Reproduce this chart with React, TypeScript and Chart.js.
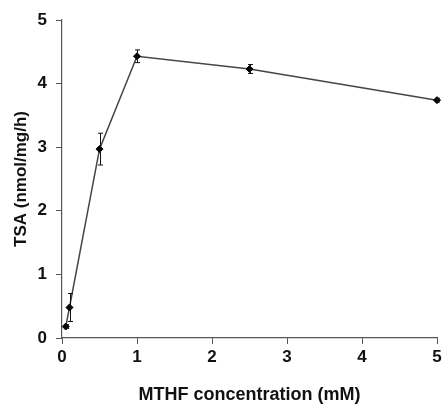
import React, { useEffect, useRef } from "react";
import { Chart, registerables } from "chart.js";

Chart.register(...registerables);

const concentrations = [0.05, 0.1, 0.5, 1, 2.5, 5];
const tsaValues = [0.18, 0.48, 2.97, 4.43, 4.23, 3.74];
const tsaErrors = [0.03, 0.22, 0.25, 0.1, 0.07, 0.03];
const xTicks = [0, 1, 2, 3, 4, 5];
const yTicks = [0, 1, 2, 3, 4, 5];

const FONT = "'Liberation Sans', Arial, sans-serif";

const errorBarPlugin = {
  id: "errorBars",
  afterDatasetsDraw(chart: any) {
    const { ctx, scales } = chart;
    const xs = scales.x;
    const ys = scales.y;
    ctx.save();
    ctx.strokeStyle = "#111";
    ctx.lineWidth = 1;
    concentrations.forEach((c, i) => {
      const px = Math.round(xs.getPixelForValue(c)) + 0.5;
      const top = ys.getPixelForValue(tsaValues[i] + tsaErrors[i]);
      const bot = ys.getPixelForValue(tsaValues[i] - tsaErrors[i]);
      ctx.beginPath();
      ctx.moveTo(px, top);
      ctx.lineTo(px, bot);
      ctx.moveTo(px - 2.5, top);
      ctx.lineTo(px + 2.5, top);
      ctx.moveTo(px - 2.5, bot);
      ctx.lineTo(px + 2.5, bot);
      ctx.stroke();
    });
    ctx.restore();
  },
};

export default function App() {
  const ref = useRef<HTMLCanvasElement>(null);
  useEffect(() => {
    if (!ref.current) return;
    const chart = new Chart(ref.current, {
      type: "line",
      data: {
        datasets: [
          {
            data: concentrations.map((c, i) => ({ x: c, y: tsaValues[i] })),
            borderColor: "#444",
            borderWidth: 1.5,
            pointStyle: "rectRot",
            pointRadius: 3.5,
            pointBackgroundColor: "#000",
            pointBorderColor: "#000",
            pointBorderWidth: 1,
            tension: 0,
            clip: false,
          } as any,
        ],
      },
      options: {
        responsive: false,
        animation: false,
        devicePixelRatio: 1,
        layout: { padding: { top: 20, right: 3, left: 0, bottom: 0 } },
        plugins: { legend: { display: false }, tooltip: { enabled: false } },
        scales: {
          x: {
            type: "linear",
            min: 0,
            max: 5,
            afterBuildTicks: (s: any) => {
              s.ticks = xTicks.map((v) => ({ value: v }));
            },
            afterFit: (s: any) => {
              s.height = 66;
              s.paddingRight = 0;
              s.paddingLeft = 0;
            },
            grid: {
              drawOnChartArea: false,
              drawTicks: true,
              tickLength: 6,
              color: "#555",
            },
            border: { color: "#555", width: 1.2 },
            ticks: {
              color: "#111",
              padding: 3,
              maxRotation: 0,
              font: { family: FONT, size: 17, weight: "bold" },
            },
            title: {
              display: true,
              text: "MTHF concentration (mM)",
              color: "#111",
              padding: { top: 0, bottom: 0 },
              font: { family: FONT, size: 18, weight: "bold", lineHeight: 1 },
            },
          },
          y: {
            type: "linear",
            min: 0,
            max: 5,
            afterBuildTicks: (s: any) => {
              s.ticks = yTicks.map((v) => ({ value: v }));
            },
            afterFit: (s: any) => {
              s.width = 62;
              s.paddingTop = 0;
              s.paddingBottom = 0;
            },
            grid: {
              drawOnChartArea: false,
              drawTicks: true,
              tickLength: 6,
              color: "#555",
            },
            border: { color: "#555", width: 1.2 },
            ticks: {
              color: "#111",
              padding: 9,
              font: { family: FONT, size: 17, weight: "bold" },
            },
            title: {
              display: true,
              text: "TSA (nmol/mg/h)",
              color: "#111",
              padding: { top: 11, bottom: 0 },
              font: { family: FONT, size: 17, weight: "bold" },
            },
          },
        },
      },
      plugins: [errorBarPlugin],
    });
    return () => chart.destroy();
  }, []);
  return (
    <div style={{ position: "fixed", left: 0, top: 0, width: 442, height: 404, background: "#fff" }}>
      <canvas ref={ref} width={442} height={404} />
    </div>
  );
}
